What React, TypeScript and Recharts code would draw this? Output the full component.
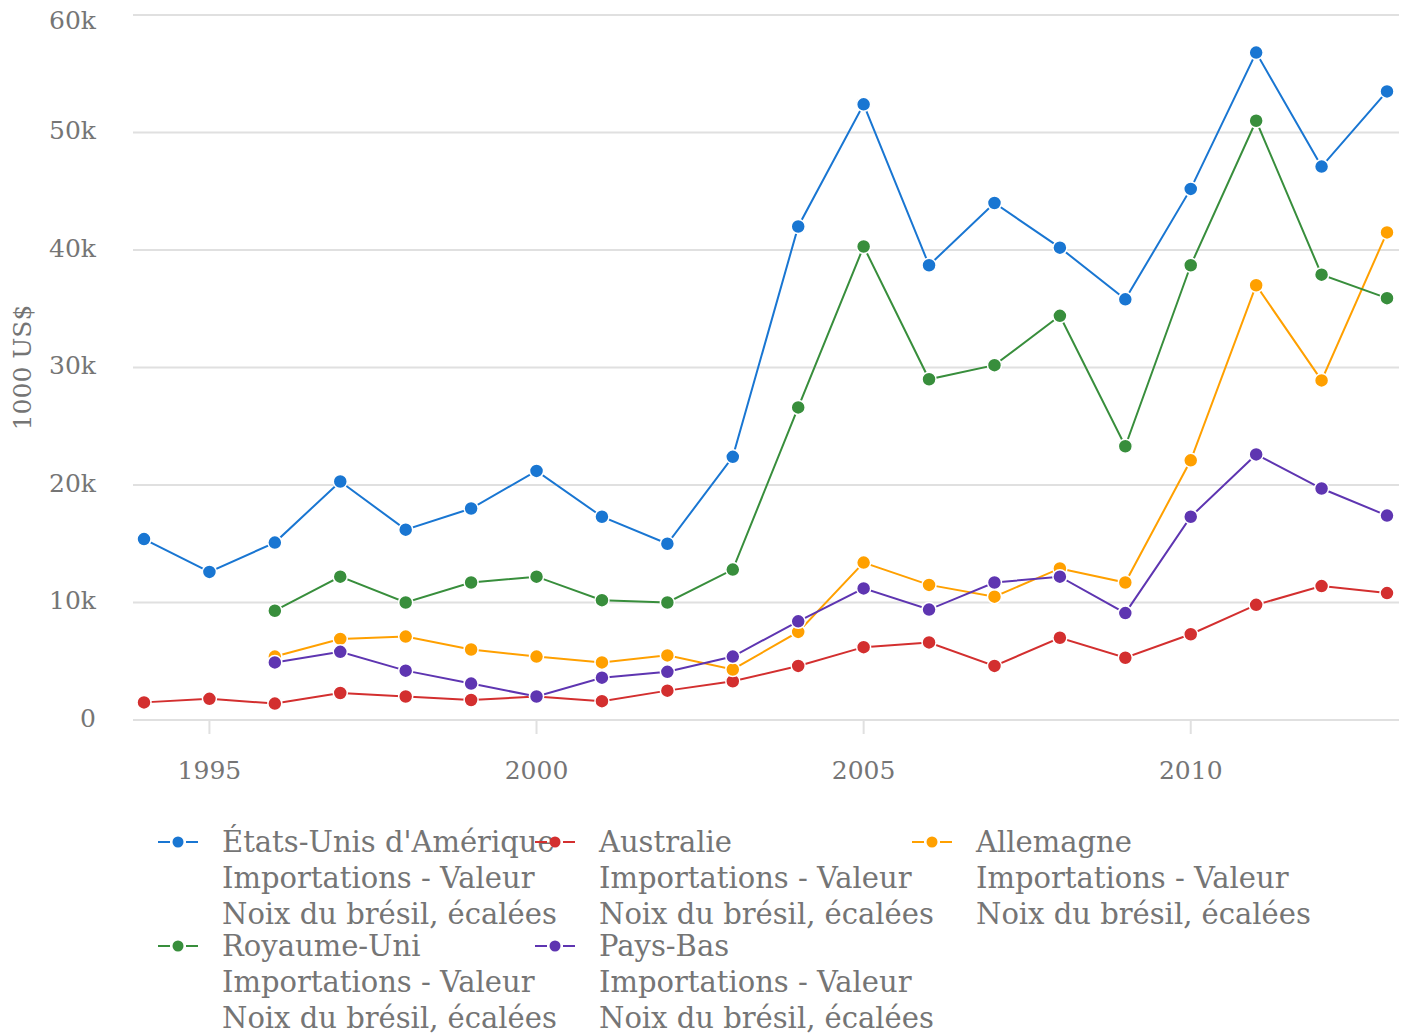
import { CartesianGrid, Legend, Line, LineChart, XAxis, YAxis } from "recharts";

const years = [1994, 1995, 1996, 1997, 1998, 1999, 2000, 2001, 2002, 2003, 2004, 2005, 2006, 2007, 2008, 2009, 2010, 2011, 2012, 2013];

// valeurs en 1000 US$
const usa = [15400, 12600, 15100, 20300, 16200, 18000, 21200, 17300, 15000, 22400, 42000, 52400, 38700, 44000, 40200, 35800, 45200, 56800, 47100, 53500];
const australie = [1500, 1800, 1400, 2300, 2000, 1700, 2000, 1600, 2500, 3300, 4600, 6200, 6600, 4600, 7000, 5300, 7300, 9800, 11400, 10800];
const allemagne = [null, null, 5400, 6900, 7100, 6000, 5400, 4900, 5500, 4300, 7500, 13400, 11500, 10500, 12900, 11700, 22100, 37000, 28900, 41500];
const royaumeUni = [null, null, 9300, 12200, 10000, 11700, 12200, 10200, 10000, 12800, 26600, 40300, 29000, 30200, 34400, 23300, 38700, 51000, 37900, 35900];
const paysBas = [null, null, 4900, 5800, 4200, 3100, 2000, 3600, 4100, 5400, 8400, 11200, 9400, 11700, 12200, 9100, 17300, 22600, 19700, 17400];

const xTicks = [1995, 2000, 2005, 2010];
const yTicks = [0, 10000, 20000, 30000, 40000, 50000, 60000];

const subtitle = ["Importations - Valeur", "Noix du brésil, écalées"];

const series = [
  { key: "usa", name: "États-Unis d'Amérique", color: "#1976d2", values: usa },
  { key: "australie", name: "Australie", color: "#d32f2f", values: australie },
  { key: "allemagne", name: "Allemagne", color: "#ffa000", values: allemagne },
  { key: "royaumeUni", name: "Royaume-Uni", color: "#388e3c", values: royaumeUni },
  { key: "paysBas", name: "Pays-Bas", color: "#5e35b1", values: paysBas },
];

const data = years.map((year, i) => {
  const row: Record<string, number | null> = { year };
  series.forEach((s) => {
    row[s.key] = s.values[i];
  });
  return row;
});

const FONT = "'DejaVu Serif', serif";
const TEXT = "#757575";
const GRID = "#e0e0e0";

function LegendContent() {
  return (
    <div
      style={{
        height: 216,
        boxSizing: "border-box",
        paddingTop: 4,
        paddingLeft: 150,
        display: "grid",
        gridTemplateColumns: "repeat(3, 377px)",
        gridAutoRows: 104,
        fontFamily: FONT,
        fontSize: 29,
        lineHeight: "36px",
        color: TEXT,
      }}
    >
      {series.map((s) => (
        <div key={s.key} style={{ position: "relative", whiteSpace: "nowrap" }}>
          <svg width={42} height={36} style={{ position: "absolute", left: 0, top: 0, zIndex: 1 }}>
            <line x1={0} y1={18} x2={12} y2={18} stroke={s.color} strokeWidth={2} />
            <line x1={28} y1={18} x2={40} y2={18} stroke={s.color} strokeWidth={2} />
            <circle cx={20} cy={18} r={5.5} fill={s.color} />
          </svg>
          <div style={{ position: "absolute", left: 64, top: 0 }}>
            <div>{s.name}</div>
            <div>{subtitle[0]}</div>
            <div>{subtitle[1]}</div>
          </div>
        </div>
      ))}
    </div>
  );
}

export default function App() {
  return (
    <LineChart
      width={1399}
      height={1028}
      data={data}
      margin={{ top: 7, right: 7, left: 0, bottom: 0 }}
      style={{ overflow: "visible" }}
    >
      <CartesianGrid vertical={false} stroke={GRID} strokeWidth={2} />
      <XAxis
        dataKey="year"
        type="number"
        domain={[1994, 2013]}
        ticks={xTicks}
        padding={{ left: 11, right: 13 }}
        height={100}
        stroke={GRID}
        strokeWidth={2}
        tickSize={14}
        tickMargin={27}
        tick={{ fill: TEXT, fontSize: 25, fontFamily: FONT }}
      />
      <YAxis
        width={125}
        domain={[0, 60000]}
        ticks={yTicks}
        axisLine={false}
        tickLine={false}
        tickMargin={31}
        tickFormatter={(v: number) => (v === 0 ? "0" : `${v / 1000}k`)}
        tick={{ fill: TEXT, fontSize: 25, fontFamily: FONT, dy: -2 }}
        label={{
          value: "1000 US$",
          angle: -90,
          position: "insideLeft",
          offset: 14,
          style: { textAnchor: "middle", fill: TEXT, fontSize: 25, fontFamily: FONT },
        }}
      />
      <Legend verticalAlign="bottom" content={<LegendContent />} />
      {series.map((s) => (
        <Line
          key={s.key}
          dataKey={s.key}
          name={s.name}
          stroke={s.color}
          strokeWidth={2}
          dot={{ r: 7, fill: s.color, stroke: "#fff", strokeWidth: 1.5 }}
          isAnimationActive={false}
        />
      ))}
    </LineChart>
  );
}
